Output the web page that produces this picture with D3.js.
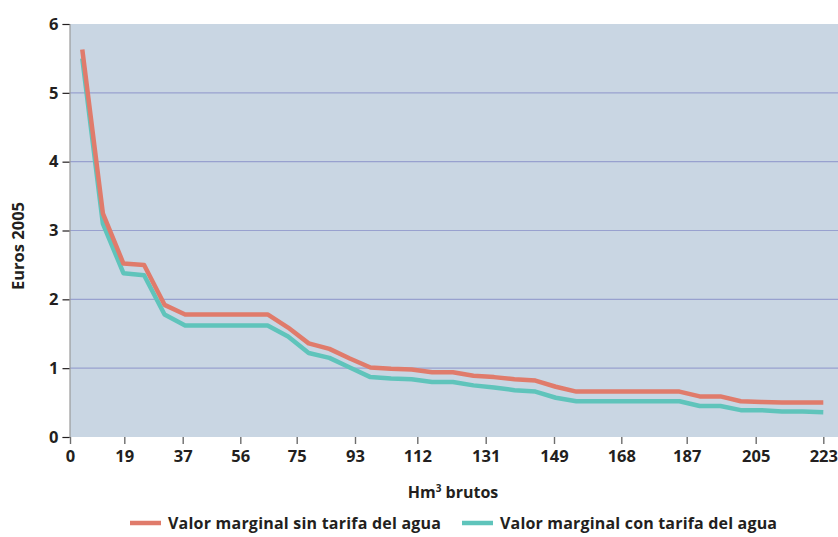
<!DOCTYPE html>
<html>
<head>
<meta charset="utf-8">
<script src="https://cdn.jsdelivr.net/npm/d3@7"></script>
<style>
  body { margin: 0; background: #fff; }
  text { font-family: "Open Sans", "Noto Sans", sans-serif; fill: #231f20; }
</style>
</head>
<body>
<svg id="chart" width="838" height="537"></svg>
<script>
// Volume (Hm³ brutos) at each step of the demand curve
const volumes = [4.3, 11.5, 18.7, 25.1, 31.4, 37.8, 44.6, 51.4, 58.3, 65.2,
  72.1, 78.7, 85.1, 91.4, 97.7, 104.0, 110.3, 116.1, 121.9, 127.6,
  133.2, 138.6, 144.1, 149.5, 155.3, 161.1, 166.9, 172.9, 178.9, 184.9,
  190.4, 195.8, 201.1, 206.5, 212.0, 217.5, 223.0];

// Marginal value (Euros 2005) without water tariff
const sinTarifa = [5.63, 3.25, 2.52, 2.50, 1.92, 1.78, 1.78, 1.78, 1.78, 1.78,
  1.59, 1.36, 1.28, 1.14, 1.01, 0.99, 0.98, 0.94, 0.94, 0.89,
  0.87, 0.84, 0.82, 0.73, 0.66, 0.66, 0.66, 0.66, 0.66, 0.66,
  0.59, 0.59, 0.52, 0.51, 0.50, 0.50, 0.50];

// Marginal value (Euros 2005) with water tariff
const conTarifa = [5.50, 3.10, 2.38, 2.35, 1.78, 1.62, 1.62, 1.62, 1.62, 1.62,
  1.46, 1.22, 1.15, 1.01, 0.87, 0.85, 0.84, 0.80, 0.80, 0.75,
  0.72, 0.68, 0.66, 0.57, 0.52, 0.52, 0.52, 0.52, 0.52, 0.52,
  0.45, 0.45, 0.39, 0.39, 0.37, 0.37, 0.36];

const xTickValues = [0, 19, 37, 56, 75, 93, 112, 131, 149, 168, 187, 205, 223];
const yTickValues = [0, 1, 2, 3, 4, 5, 6];
const seriesNames = ["Valor marginal sin tarifa del agua", "Valor marginal con tarifa del agua"];
const seriesColors = ["#e07b6b", "#5fc4bb"];

// Layout
const plot = { left: 70, top: 24, right: 838, bottom: 437 };
// horizontal axis spacing (offsets from the plot's left edge for each tick value)
const xTickOffsets = [0, 54.3, 112.7, 170.3, 226.7, 285, 347.3, 415.7, 484, 551.3, 616.7, 685.7, 753.3];

const svg = d3.select("#chart");

const x = d3.scaleLinear()
  .domain(xTickValues)
  .range(xTickOffsets.map(o => plot.left + o));

const y = d3.scaleLinear()
  .domain([0, 6])
  .range([plot.bottom, plot.top]);

// plot background
svg.append("rect")
  .attr("x", plot.left).attr("y", plot.top)
  .attr("width", plot.right - plot.left)
  .attr("height", plot.bottom - plot.top)
  .attr("fill", "#c9d6e3");

// horizontal gridlines
svg.append("g")
  .selectAll("line")
  .data(yTickValues.filter(v => v > 0 && v < 6))
  .join("line")
  .attr("x1", plot.left).attr("x2", plot.right)
  .attr("y1", d => y(d)).attr("y2", d => y(d))
  .attr("stroke", "#98a1cf")
  .attr("stroke-width", 1.2);

// y axis
const yAxis = svg.append("g")
  .attr("transform", `translate(${plot.left - 0.5},0)`)
  .call(d3.axisLeft(y).tickValues(yTickValues).tickSize(7).tickPadding(4).tickFormat(d3.format("d")));
yAxis.select(".domain").attr("stroke", "#9a9a9a").attr("stroke-width", 1.2);
yAxis.selectAll(".tick line").attr("stroke", "#231f20").attr("stroke-width", 1.2);
yAxis.selectAll(".tick text")
  .style("font-size", "16.5px").style("font-weight", 700)
  .attr("fill", "#231f20");

// x axis
const xAxis = svg.append("g")
  .attr("transform", `translate(0,${plot.bottom})`)
  .call(d3.axisBottom(x).tickValues(xTickValues).tickSize(7).tickPadding(6).tickFormat(d3.format("d")));
xAxis.select(".domain").remove();
xAxis.selectAll(".tick line").attr("stroke", "#6d6d6d").attr("stroke-width", 1.4);
xAxis.selectAll(".tick text")
  .style("font-size", "16.5px").style("font-weight", 700)
  .attr("fill", "#231f20");

// lines
const line = d3.line()
  .x((d, i) => x(volumes[i]))
  .y(d => y(d));

[conTarifa, sinTarifa].forEach((series, k) => {
  svg.append("path")
    .datum(series)
    .attr("d", line)
    .attr("fill", "none")
    .attr("stroke", seriesColors[1 - k])
    .attr("stroke-width", 4.5)
    .attr("stroke-linejoin", "round");
});

// axis titles
svg.append("text")
  .attr("transform", `translate(24,246) rotate(-90)`)
  .attr("text-anchor", "middle")
  .style("font-size", "16.5px").style("font-weight", 700)
  .text("Euros 2005");

const xTitle = svg.append("text")
  .attr("x", 453).attr("y", 498)
  .attr("text-anchor", "middle")
  .style("font-size", "16px").style("font-weight", 700);
xTitle.append("tspan").text("Hm");
xTitle.append("tspan").attr("dy", -6).style("font-size", "10px").text("3");
xTitle.append("tspan").attr("dy", 6).text(" brutos");

// legend
const legendItems = [
  { x: 130, name: seriesNames[0], color: seriesColors[0], width: 273 },
  { x: 462, name: seriesNames[1], color: seriesColors[1], width: 277 }
];
const legend = svg.append("g").selectAll("g").data(legendItems).join("g")
  .attr("transform", d => `translate(${d.x},523)`);
legend.append("line")
  .attr("x1", 0).attr("x2", 31)
  .attr("stroke", d => d.color).attr("stroke-width", 4.5);
legend.append("text")
  .attr("x", 38).attr("dy", "0.36em")
  .attr("textLength", d => d.width)
  .attr("lengthAdjust", "spacing")
  .style("font-size", "16px").style("font-weight", 700)
  .text(d => d.name);
</script>
</body>
</html>
